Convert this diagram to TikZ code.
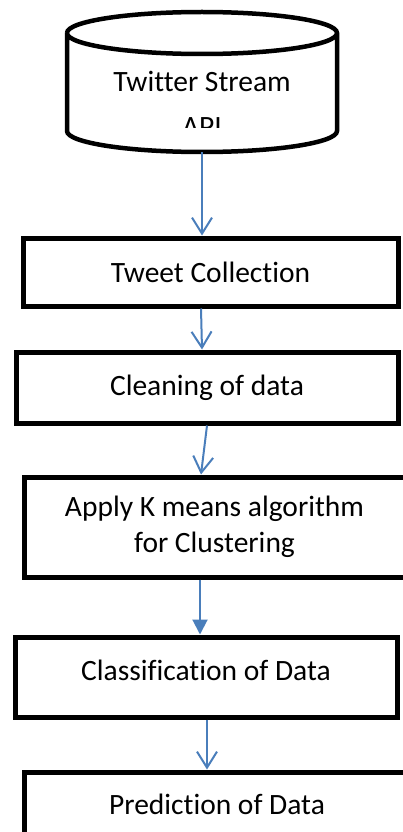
\documentclass[tikz,border=0pt]{standalone}
\usepackage{fontspec}
\setmainfont{Carlito}[Ligatures=NoCommon]
\usepackage{tikz}
\usetikzlibrary{arrows.meta,positioning,calc}

\definecolor{flowblue}{HTML}{4A7EBB}

\begin{document}
\begin{tikzpicture}[
      x=1pt, y=-1pt,
      box/.style={rectangle, draw, line width=5pt, align=center,
        font=\fontsize{29.5}{36}\selectfont, inner sep=0pt},
      flow/.style={-{Straight Barb[length=16pt, width=20pt, line width=2pt]},
        line width=2pt, draw=flowblue},
      flowfill/.style={-{Triangle[length=15pt, width=15pt]},
        line width=2pt, draw=flowblue, fill=flowblue},
  ]
      \useasboundingbox (0,0) rectangle (403,832);

      % --- FONTE DE DADOS (cilindro) ---
      \draw[line width=4.5pt] (67,33) arc[start angle=180, end angle=-180, x radius=135, y radius=21]
        (67,33) -- (67,131) arc[start angle=180, end angle=0, x radius=135, y radius=21] -- (337,33);
      \begin{scope}
        \clip (60,12) rectangle (345,128);
        \node[font=\fontsize{29.5}{36}\selectfont, align=center] (api) at (202,104) {Twitter Stream\\[9pt]API};
      \end{scope}
      \coordinate (apibase) at (202,152);

      % --- ETAPAS ---
      \node[box, minimum width=375, minimum height=68] (tweets) at (210.5,272) {Tweet Collection};
      \node[box, minimum width=382, minimum height=71] (cleaning) at (207,387.5) {Cleaning of data};
      \node[box, minimum width=381, minimum height=100] (kmeans) at (214.5,527) {Apply K means algorithm\\[0pt]for Clustering};
      \node[box, minimum width=382, minimum height=80, text height=20pt, text depth=14pt] (classify) at (206,677) {Classification of Data};
      \node[box, minimum width=386, minimum height=64] (predict) at (217,804) {Prediction of Data};

      % --- CONEXOES ---
      \draw[flow] (apibase) -- (apibase |- tweets.north);
      \draw[flow] ([xshift=-9.5pt]tweets.south) -- ([xshift=-5pt]cleaning.north);
      \draw[flow] (cleaning.south) -- ([xshift=-13.5pt]kmeans.north);
      \draw[flowfill] ([xshift=-14.5pt]kmeans.south) -- ([xshift=-6pt]classify.north);
      \draw[flow] ([xshift=1pt]classify.south) -- ([xshift=-10pt]predict.north);

  \end{tikzpicture}
\end{document}
